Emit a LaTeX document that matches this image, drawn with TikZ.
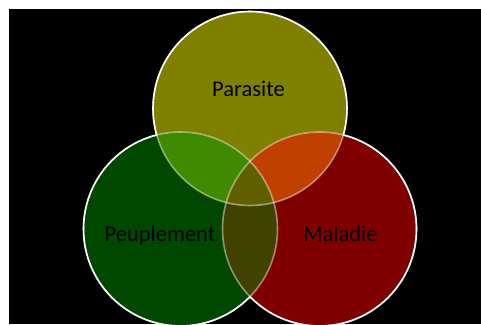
\documentclass[tikz,border=0pt]{standalone}
\usepackage{fontspec}
\setmainfont{Carlito}
\definecolor{cpar}{HTML}{808000}
\definecolor{cpeu}{HTML}{004800}
\definecolor{cmal}{HTML}{800000}
\definecolor{cpp}{HTML}{408A00}
\definecolor{cpm}{HTML}{C04000}
\definecolor{cbm}{HTML}{404200}
\definecolor{cctr}{HTML}{606000}
\tikzset{
  lbl/.style={anchor=base, text=black, font=\fontsize{22.5}{27}\selectfont, inner sep=0pt},
  rim/.style={draw=white, line width=1.6pt},
  softrim/.style={draw=white, draw opacity=0.45, line width=1.6pt}
}
\def\cA{(250,215.5) circle[radius=97pt]}
\def\cB{(180.5,95) circle[radius=97pt]}
\def\cC{(319.5,95) circle[radius=97pt]}
\def\outer{(-10,-10) -- (-10,400) -- (500,400) -- (500,-10) -- cycle}
\begin{document}
\begin{tikzpicture}[x=1pt,y=1pt]
\useasboundingbox (0,0) rectangle (481,324);
\fill[black] (9,0) rectangle (481,315);
% base fills
\fill[cpar] \cA;
\fill[cpeu] \cB;
\fill[cmal] \cC;
% overlaps
\begin{scope}
  \clip \cA;
  \fill[cpp] \cB;
  \fill[cpm] \cC;
\end{scope}
\begin{scope}
  \clip \cB;
  \fill[cbm] \cC;
  \clip \cA;
  \fill[cctr] \cC;
\end{scope}
% soft outlines inside overlaps
\path[softrim] \cA;
\path[softrim] \cB;
\path[softrim] \cC;
% full white outer arcs
\begin{scope}
  \clip \outer \cB;
  \clip \outer \cC;
  \path[rim] \cA;
\end{scope}
\begin{scope}
  \clip \outer \cA;
  \clip \outer \cC;
  \path[rim] \cB;
\end{scope}
\begin{scope}
  \clip \outer \cA;
  \clip \outer \cB;
  \path[rim] \cC;
\end{scope}
% labels
\node[lbl] (par) at (248.5,227.3) {Parasite};
\node[lbl] (peu) at (160,83) {Peuplement};
\node[lbl] (mal) at (340.5,83) {Maladie};
\end{tikzpicture}
\end{document}
